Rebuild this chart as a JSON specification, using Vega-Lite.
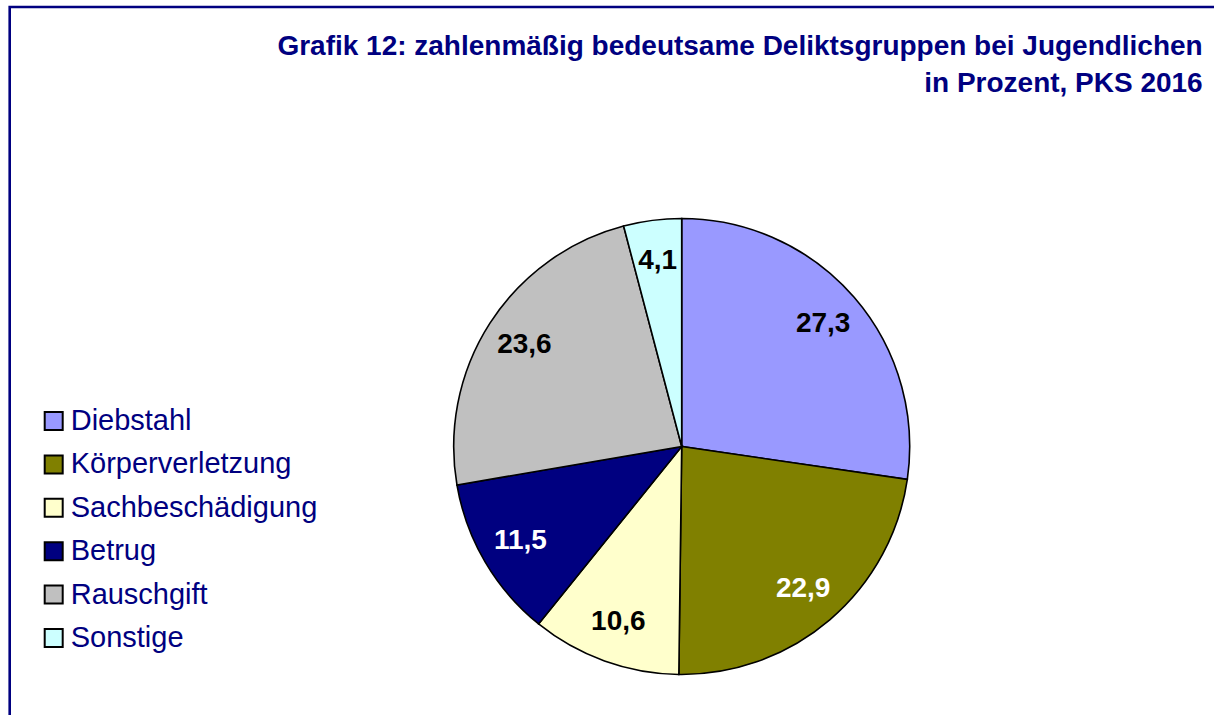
{
  "$schema": "https://vega.github.io/schema/vega-lite/v6.json",
  "autosize": {"type": "none"},
  "padding": {"left": 9.7, "top": 7, "right": 0, "bottom": 0},
  "width": 1344,
  "height": 879,
  "background": "white",
  "config": {
    "locale": {"number": {"decimal": ",", "thousands": ".", "grouping": [3], "currency": ["", " €"]}},
    "view": {"stroke": null},
    "font": "Liberation Sans"
  },
  "title": {
    "text": ["Grafik 12: zahlenmäßig bedeutsame Deliktsgruppen bei Jugendlichen", "in Prozent, PKS 2016"],
    "orient": "top",
    "anchor": "end",
    "align": "right",
    "baseline": "alphabetic",
    "frame": "group",
    "offset": -114,
    "dx": -151,
    "font": "Liberation Sans",
    "fontSize": 28,
    "fontWeight": "bold",
    "color": "#000080",
    "lineHeight": 37
  },
  "data": {
    "values": [
      {"Delikt": "Diebstahl", "Anteil": 27.3, "Reihenfolge": 1},
      {"Delikt": "Körperverletzung", "Anteil": 22.9, "Reihenfolge": 2},
      {"Delikt": "Sachbeschädigung", "Anteil": 10.6, "Reihenfolge": 3},
      {"Delikt": "Betrug", "Anteil": 11.5, "Reihenfolge": 4},
      {"Delikt": "Rauschgift", "Anteil": 23.6, "Reihenfolge": 5},
      {"Delikt": "Sonstige", "Anteil": 4.1, "Reihenfolge": 6}
    ]
  },
  "layer": [
    {
      "data": {"values": [{}]},
      "mark": {"type": "rect", "x": 0, "y": 0, "x2": "width", "y2": "height", "fill": null, "stroke": "#000080", "strokeWidth": 2.6},
      "encoding": {}
    },
    {
      "mark": {"type": "arc", "radius": 228, "stroke": "black", "strokeWidth": 1.6},
      "encoding": {
        "theta": {"field": "Anteil", "type": "quantitative", "stack": true},
        "order": {"field": "Reihenfolge", "type": "quantitative"},
        "color": {
          "field": "Delikt",
          "type": "nominal",
          "scale": {
            "domain": ["Diebstahl", "Körperverletzung", "Sachbeschädigung", "Betrug", "Rauschgift", "Sonstige"],
            "range": ["#9999FF", "#808000", "#FFFFCC", "#000080", "#C0C0C0", "#CCFFFF"]
          },
          "legend": {
            "title": null,
            "orient": "none",
            "legendX": 29.5,
            "legendY": 399.5,
            "padding": 0,
            "symbolType": "square",
            "symbolSize": 324,
            "symbolStrokeColor": "black",
            "symbolStrokeWidth": 2,
            "symbolOpacity": 1,
            "labelFont": "Liberation Sans",
            "labelFontSize": 29,
            "labelColor": "#000080",
            "labelOffset": 2.5,
            "labelLimit": 400,
            "rowPadding": 13.4
          }
        }
      }
    },
    {
      "mark": {"type": "text", "radius": 187, "font": "Liberation Sans", "fontSize": 28, "fontWeight": "bold", "align": "center", "baseline": "middle"},
      "encoding": {
        "theta": {"field": "Anteil", "type": "quantitative", "stack": true},
        "order": {"field": "Reihenfolge", "type": "quantitative"},
        "text": {"field": "Anteil", "type": "quantitative", "format": ".1f"},
        "color": {
          "condition": {"test": "datum.Delikt === 'Körperverletzung' || datum.Delikt === 'Betrug'", "value": "white"},
          "value": "black"
        }
      }
    }
  ]
}
